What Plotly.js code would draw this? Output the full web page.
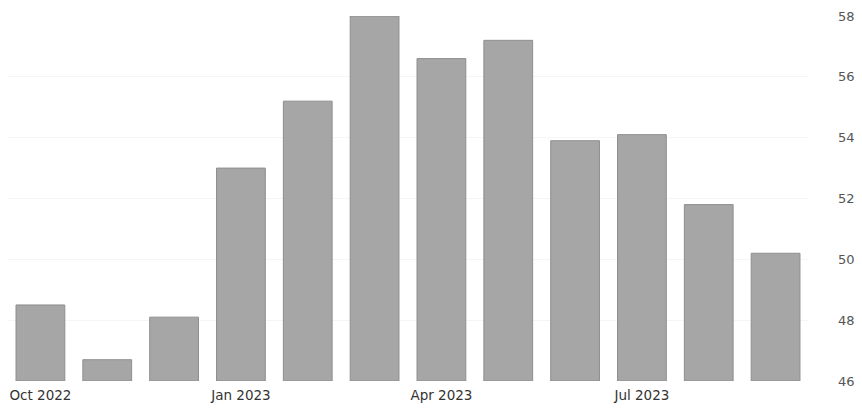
<!DOCTYPE html>
<html>
<head>
<meta charset="utf-8">
<script src="https://cdn.plot.ly/plotly-3.0.1.min.js"></script>
<style>html,body{margin:0;padding:0;background:#fff;}#chart{width:862px;height:411px;}</style>
</head>
<body>
<div id="chart"></div>
<script>
const months = ["Oct 2022","Nov 2022","Dec 2022","Jan 2023","Feb 2023","Mar 2023","Apr 2023","May 2023","Jun 2023","Jul 2023","Aug 2023","Sep 2023"];
const values = [48.5, 46.7, 48.1, 53.0, 55.2, 58.0, 56.6, 57.2, 53.9, 54.1, 51.8, 50.2];
const tickMonths = ["Oct 2022","Jan 2023","Apr 2023","Jul 2023"];
const yTicks = [46, 48, 50, 52, 54, 56, 58];
const baseline = 46;

const trace = {
  type: "bar",
  x: months,
  y: values.map(v => v - baseline),
  base: baseline,
  customdata: values,
  marker: {color: "#a6a6a6", line: {color: "#8e8e8e", width: 1}},
  hovertemplate: "%{x}: %{customdata}<extra></extra>"
};

const layout = {
  width: 862, height: 411,
  margin: {l: 7, r: 53, t: 16, b: 30},
  paper_bgcolor: "#fff", plot_bgcolor: "#fff",
  bargap: 0.27,
  showlegend: false,
  font: {family: "DejaVu Sans, Verdana, sans-serif", size: 12, color: "#333"},
  xaxis: {
    type: "category",
    categoryorder: "array", categoryarray: months,
    tickvals: tickMonths, ticktext: tickMonths,
    showgrid: false, zeroline: false, showline: false, ticks: "",
    tickfont: {size: 13.5, color: "#333"},
    ticklabelstandoff: 4,
    range: [-0.5, 11.5]
  },
  yaxis: {
    side: "right",
    range: [46, 58],
    tickvals: yTicks,
    ticktext: yTicks.map(String),
    showgrid: true, gridcolor: "#f5f5f5", gridwidth: 1,
    zeroline: false, showline: false, ticks: "",
    tickfont: {size: 13, color: "#555"},
    ticklabelstandoff: 28
  }
};
Plotly.newPlot("chart", [trace], layout, {displayModeBar: false, staticPlot: true});
</script>
</body>
</html>
